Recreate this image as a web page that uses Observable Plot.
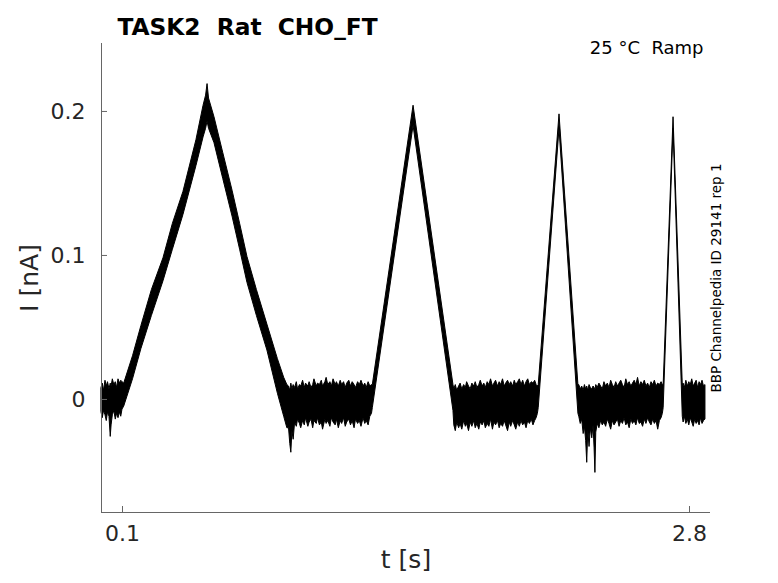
<!DOCTYPE html>
<html>
<head>
<meta charset="utf-8">
<script src="https://cdn.jsdelivr.net/npm/d3@7"></script>
<script src="https://cdn.jsdelivr.net/npm/@observablehq/plot@0.6"></script>
<style>
  html, body { margin: 0; padding: 0; background: #fff; }
  svg text { white-space: pre; }
</style>
</head>
<body>
<div id="chart"></div>
<script>
// ---- Chart text ----
const title = "TASK2  Rat  CHO_FT";
const conditionLabel = "25 \u00b0C  Ramp";
const sourceLabel = "BBP Channelpedia ID 29141 rep 1";
const xLabel = "t [s]";
const yLabel = "I [nA]";

// ---- Scales / ticks ----
const xDomain = [0, 2.9];
const yDomain = [-0.0785, 0.2472];
const xTicks = [0.1, 2.8];
const yTicks = [0, 0.1, 0.2];

// ---- Current trace envelope: [t (s), low (nA), high (nA)] ----
const baseline0 = [
  [0.000, -0.009, 0.008], [0.006, -0.013, 0.011], [0.012, -0.008, 0.006], [0.019, -0.011, 0.013],
  [0.025, -0.015, 0.009], [0.031, -0.009, 0.012], [0.038, -0.012, 0.007], [0.044, -0.026, 0.011],
  [0.048, -0.018, 0.009], [0.054, -0.011, 0.014], [0.061, -0.008, 0.010], [0.068, -0.014, 0.012],
  [0.074, -0.010, 0.008], [0.081, -0.013, 0.014], [0.088, -0.009, 0.011], [0.094, -0.012, 0.013],
  [0.100, -0.007, 0.012]
];
const ramp1 = [
  [0.108, -0.005, 0.011], [0.150, 0.014, 0.030], [0.190, 0.035, 0.051], [0.240, 0.058, 0.076],
  [0.295, 0.082, 0.098], [0.340, 0.104, 0.122], [0.390, 0.128, 0.144], [0.452, 0.162, 0.180],
  [0.486, 0.182, 0.204], [0.498, 0.188, 0.211], [0.505, 0.193, 0.219], [0.512, 0.188, 0.209],
  [0.538, 0.178, 0.196], [0.580, 0.153, 0.171], [0.624, 0.127, 0.145], [0.660, 0.104, 0.122],
  [0.695, 0.081, 0.099], [0.740, 0.058, 0.076], [0.790, 0.034, 0.052], [0.840, 0.004, 0.028],
  [0.870, -0.012, 0.015], [0.885, -0.020, 0.010]
];
const baseline1 = [
  [0.893, -0.020, 0.009], [0.899, -0.031, 0.006], [0.904, -0.037, 0.011], [0.909, -0.022, 0.007],
  [0.915, -0.028, 0.010], [0.922, -0.016, 0.008], [0.930, -0.019, 0.012], [0.936, -0.014, 0.007],
  [0.945, -0.017, 0.010], [0.951, -0.020, 0.009], [0.960, -0.015, 0.013], [0.968, -0.018, 0.008],
  [0.974, -0.013, 0.011], [0.985, -0.019, 0.009], [0.991, -0.016, 0.012], [1.000, -0.014, 0.008],
  [1.008, -0.020, 0.010], [1.014, -0.015, 0.014], [1.025, -0.017, 0.009], [1.031, -0.013, 0.011],
  [1.040, -0.018, 0.010], [1.049, -0.016, 0.013], [1.055, -0.021, 0.009], [1.066, -0.014, 0.012],
  [1.072, -0.017, 0.015], [1.080, -0.015, 0.010], [1.090, -0.019, 0.012], [1.097, -0.013, 0.009],
  [1.105, -0.016, 0.014], [1.115, -0.018, 0.010], [1.121, -0.014, 0.012], [1.130, -0.020, 0.009],
  [1.139, -0.015, 0.013], [1.146, -0.017, 0.010], [1.155, -0.013, 0.012], [1.163, -0.019, 0.008],
  [1.170, -0.016, 0.011], [1.180, -0.014, 0.013], [1.188, -0.018, 0.009], [1.196, -0.015, 0.012],
  [1.205, -0.020, 0.010], [1.212, -0.014, 0.008], [1.222, -0.017, 0.012], [1.230, -0.015, 0.010],
  [1.238, -0.019, 0.013], [1.248, -0.013, 0.009], [1.256, -0.017, 0.011], [1.263, -0.015, 0.008],
  [1.272, -0.018, 0.012], [1.280, -0.012, 0.009], [1.288, -0.010, 0.010]
];
const ramp2 = [
  [1.292, -0.006, 0.010], [1.486, 0.190, 0.204], [1.676, -0.008, 0.010]
];
const baseline2 = [
  [1.680, -0.018, 0.007], [1.687, -0.022, 0.010], [1.694, -0.016, 0.006], [1.703, -0.020, 0.009],
  [1.710, -0.017, 0.011], [1.718, -0.021, 0.007], [1.727, -0.015, 0.010], [1.735, -0.019, 0.008],
  [1.741, -0.017, 0.012], [1.750, -0.022, 0.009], [1.758, -0.016, 0.007], [1.766, -0.019, 0.011],
  [1.775, -0.015, 0.009], [1.782, -0.020, 0.012], [1.790, -0.017, 0.008], [1.799, -0.021, 0.010],
  [1.806, -0.016, 0.013], [1.815, -0.018, 0.009], [1.823, -0.015, 0.011], [1.830, -0.020, 0.008],
  [1.839, -0.017, 0.012], [1.847, -0.019, 0.010], [1.855, -0.014, 0.014], [1.864, -0.021, 0.009],
  [1.871, -0.016, 0.011], [1.879, -0.018, 0.013], [1.888, -0.015, 0.009], [1.896, -0.020, 0.012],
  [1.903, -0.017, 0.010], [1.912, -0.019, 0.014], [1.920, -0.015, 0.009], [1.927, -0.018, 0.011],
  [1.936, -0.022, 0.013], [1.944, -0.016, 0.010], [1.951, -0.019, 0.012], [1.960, -0.015, 0.009],
  [1.968, -0.018, 0.013], [1.975, -0.021, 0.010], [1.984, -0.016, 0.012], [1.992, -0.019, 0.014],
  [2.000, -0.015, 0.010], [2.008, -0.018, 0.013], [2.016, -0.016, 0.009], [2.024, -0.020, 0.012],
  [2.032, -0.015, 0.014], [2.040, -0.017, 0.010], [2.049, -0.014, 0.012], [2.057, -0.018, 0.011],
  [2.065, -0.015, 0.013], [2.072, -0.013, 0.010], [2.078, -0.010, 0.009]
];
const ramp3 = [
  [2.082, -0.006, 0.010], [2.181, 0.188, 0.198], [2.271, -0.010, 0.010]
];
const baseline3 = [
  [2.275, -0.012, 0.010], [2.282, -0.017, 0.007], [2.289, -0.014, 0.009], [2.296, -0.024, 0.006],
  [2.302, -0.019, 0.010], [2.308, -0.029, 0.007], [2.313, -0.044, 0.009], [2.318, -0.021, 0.006],
  [2.324, -0.033, 0.010], [2.330, -0.020, 0.008], [2.337, -0.027, 0.007], [2.343, -0.018, 0.009],
  [2.348, -0.034, 0.008], [2.352, -0.051, 0.006], [2.356, -0.023, 0.010], [2.363, -0.017, 0.008],
  [2.371, -0.020, 0.011], [2.379, -0.015, 0.009], [2.387, -0.018, 0.007], [2.395, -0.016, 0.012],
  [2.403, -0.019, 0.009], [2.411, -0.014, 0.011], [2.419, -0.017, 0.008], [2.427, -0.021, 0.013],
  [2.435, -0.015, 0.010], [2.443, -0.018, 0.008], [2.451, -0.016, 0.012], [2.459, -0.014, 0.009],
  [2.467, -0.019, 0.011], [2.475, -0.015, 0.013], [2.483, -0.017, 0.010], [2.491, -0.013, 0.008],
  [2.499, -0.018, 0.014], [2.507, -0.016, 0.010], [2.515, -0.020, 0.012], [2.523, -0.014, 0.009],
  [2.531, -0.017, 0.011], [2.539, -0.015, 0.013], [2.547, -0.018, 0.010], [2.555, -0.013, 0.015],
  [2.563, -0.017, 0.009], [2.571, -0.016, 0.012], [2.579, -0.019, 0.010], [2.587, -0.014, 0.013],
  [2.595, -0.017, 0.009], [2.603, -0.013, 0.011], [2.611, -0.016, 0.008], [2.619, -0.018, 0.012],
  [2.627, -0.014, 0.010], [2.635, -0.017, 0.013], [2.643, -0.015, 0.009], [2.651, -0.021, 0.011],
  [2.659, -0.015, 0.010], [2.667, -0.013, 0.012], [2.673, -0.010, 0.010]
];
const ramp4 = [
  [2.677, -0.006, 0.010], [2.724, 0.188, 0.196], [2.768, -0.012, 0.010]
];
const baseline4 = [
  [2.772, -0.016, 0.011], [2.778, -0.012, 0.008], [2.785, -0.017, 0.013], [2.792, -0.014, 0.009],
  [2.799, -0.018, 0.012], [2.806, -0.013, 0.010], [2.813, -0.016, 0.014], [2.820, -0.019, 0.009],
  [2.827, -0.014, 0.011], [2.834, -0.017, 0.013], [2.841, -0.015, 0.008], [2.848, -0.018, 0.012],
  [2.855, -0.013, 0.010], [2.862, -0.017, 0.013], [2.869, -0.015, 0.009], [2.876, -0.014, 0.010]
];

const trace = [baseline0, ramp1, baseline1, ramp2, baseline2, ramp3, baseline3, ramp4, baseline4]
  .flat()
  .map(([t, lo, hi]) => ({t, lo, hi}));

const W = 778, H = 583;
const mL = 101, mR = 68, mT = 43, mB = 71;
const frameW = W - mL - mR, frameH = H - mT - mB;
const axisColor = "#666666";
const textColor = "#262626";
const font = "DejaVu Sans";

const chart = Plot.plot({
  width: W,
  height: H,
  marginLeft: mL,
  marginRight: mR,
  marginTop: mT,
  marginBottom: mB,
  style: {fontFamily: font, background: "#fff", overflow: "visible"},
  x: {domain: xDomain},
  y: {domain: yDomain},
  marks: [
    // trace band
    Plot.areaY(trace, {x: "t", y1: "lo", y2: "hi", fill: "black", stroke: "black", strokeWidth: 1, curve: "linear"}),
    // axis lines
    Plot.ruleX([xDomain[0]], {stroke: axisColor, strokeWidth: 1}),
    Plot.ruleY([yDomain[0]], {stroke: axisColor, strokeWidth: 1}),
    // inward ticks
    Plot.tickY(yTicks, {y: d => d, stroke: axisColor, insetRight: frameW - 6}),
    Plot.tickX(xTicks, {x: d => d, stroke: axisColor, insetTop: frameH - 6}),
    // tick labels
    Plot.axisY(yTicks, {tickSize: 0, tickPadding: 16, fontSize: 22, fill: textColor, label: null, tickFormat: d => d === 0 ? "0" : d3.format(".1f")(d)}),
    Plot.axisX(xTicks, {tickSize: 0, tickPadding: 13, fontSize: 22, fill: textColor, label: null, tickFormat: d3.format(".1f")}),
    // axis titles
    Plot.text([xLabel], {frameAnchor: "bottom", dy: 55, fontSize: 25, fill: textColor}),
    Plot.text([yLabel], {frameAnchor: "left", textAnchor: "middle", dx: -72, rotate: -90, fontSize: 25, fill: textColor}),
    // title and annotations
    Plot.text([title], {frameAnchor: "top-left", textAnchor: "middle", dx: 146, dy: -25, fontSize: 23.3, fontWeight: "bold", fill: "black"}),
    Plot.text([conditionLabel], {frameAnchor: "top-right", textAnchor: "end", dx: -7, dy: -2.5, fontSize: 18, fill: "black"}),
    Plot.text([sourceLabel], {frameAnchor: "right", textAnchor: "middle", dx: 6, rotate: -90, fontSize: 13.5, fill: "black"})
  ]
});
document.getElementById("chart").appendChild(chart);
</script>
</body>
</html>
